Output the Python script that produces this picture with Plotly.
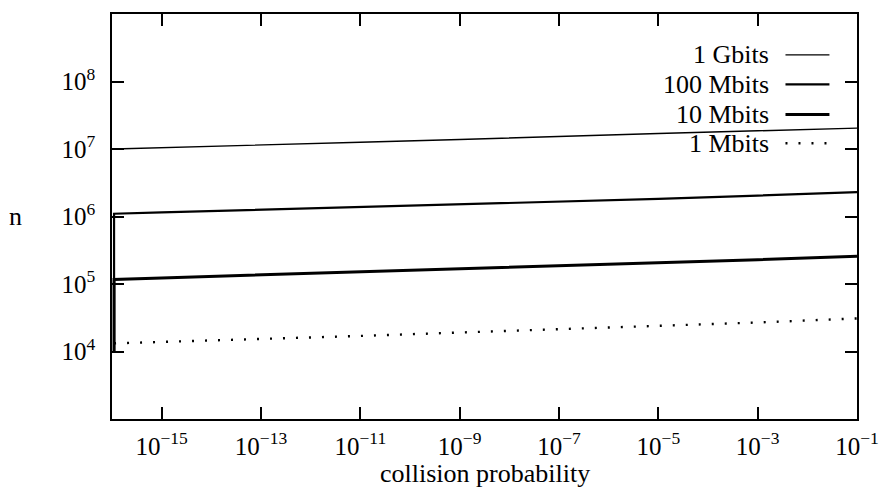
import plotly.graph_objects as go

# collision probability (x) and n values
x_main = [1.1e-16, 1e-15, 1e-13, 1e-11, 1e-9, 1e-7, 1e-5, 1e-3, 1e-1]
n_1g = [1.00e7, 1.05e7, 1.15e7, 1.26e7, 1.38e7, 1.55e7, 1.70e7, 1.86e7, 2.04e7]
n_100m = [1.10e6, 1.15e6, 1.26e6, 1.38e6, 1.51e6, 1.66e6, 1.82e6, 2.04e6, 2.29e6]
n_10m = [1.17e5, 1.23e5, 1.36e5, 1.51e5, 1.68e5, 1.86e5, 2.04e5, 2.29e5, 2.57e5]
n_1m = [1.32e4, 1.38e4, 1.53e4, 1.70e4, 1.91e4, 2.14e4, 2.40e4, 2.69e4, 3.09e4]
# drop at the left edge for two series
x_drop = [1.1e-16]
n_drop = [1.0e4]

labels = ["1 Gbits", "100 Mbits", "10 Mbits", "1 Mbits"]
widths = [1.4, 2.2, 3.0, 2.4]
dashes = ["solid", "solid", "solid", "2px,11px"]

xtick_vals = [1e-15, 1e-13, 1e-11, 1e-9, 1e-7, 1e-5, 1e-3, 1e-1]
xtick_text = ["10<sup>−15</sup>", "10<sup>−13</sup>", "10<sup>−11</sup>", "10<sup>−9</sup>",
              "10<sup>−7</sup>", "10<sup>−5</sup>", "10<sup>−3</sup>", "10<sup>−1</sup>"]
ytick_vals = [1e4, 1e5, 1e6, 1e7, 1e8]
ytick_text = ["10<sup>4</sup>", "10<sup>5</sup>", "10<sup>6</sup>", "10<sup>7</sup>", "10<sup>8</sup>"]

FONT = "'Liberation Serif', 'DejaVu Serif', serif"
FS = 25

series = [
    (x_main, n_1g),
    (x_drop + x_main, n_drop + n_100m),
    (x_drop + x_main, n_drop + n_10m),
    (x_main, n_1m),
]

fig = go.Figure()
for (xs, ys), lab, w, d in zip(series, labels, widths, dashes):
    fig.add_trace(go.Scatter(x=xs, y=ys, mode="lines", name=lab,
                             line=dict(color="black", width=w, dash=d),
                             showlegend=False))

# legend drawn as text + sample lines (text on the left of the sample)
leg_y = [0.899, 0.826, 0.752, 0.681]
for lab, w, d, yy in zip(labels, widths, dashes, leg_y):
    fig.add_annotation(x=0.885, y=yy, xref="paper", yref="paper", text=lab,
                       showarrow=False, xanchor="right", yanchor="middle",
                       font=dict(family=FONT, size=26, color="black"))
    fig.add_shape(type="line", xref="paper", yref="paper", x0=0.904, x1=0.963,
                  y0=yy, y1=yy, line=dict(color="black", width=w, dash=d))

fig.add_annotation(x=-0.13, y=0.5, xref="paper", yref="paper", text="n",
                   showarrow=False, xanchor="center", yanchor="middle",
                   font=dict(family=FONT, size=26, color="black"))
fig.add_annotation(x=0.5, y=-0.135, xref="paper", yref="paper", text="collision probability",
                   showarrow=False, xanchor="center", yanchor="middle",
                   font=dict(family=FONT, size=26, color="black"))

axis_common = dict(showline=True, linecolor="black", linewidth=1.5, mirror="ticks",
                   ticks="inside", ticklen=12, tickwidth=1.5, tickcolor="black",
                   showgrid=False, zeroline=False,
                   tickfont=dict(family=FONT, size=FS, color="black"))

fig.update_xaxes(type="log", range=[-16, -1], tickvals=xtick_vals, ticktext=xtick_text,
                 ticklabelstandoff=4, **axis_common)
fig.update_yaxes(type="log", range=[3, 9], tickvals=ytick_vals, ticktext=ytick_text,
                 ticklabelstandoff=10, **axis_common)

fig.update_layout(width=891, height=488, margin=dict(l=112, r=31, t=12, b=69),
                  plot_bgcolor="white", paper_bgcolor="white",
                  font=dict(family=FONT, size=FS, color="black"))

fig.write_html("out.html")
